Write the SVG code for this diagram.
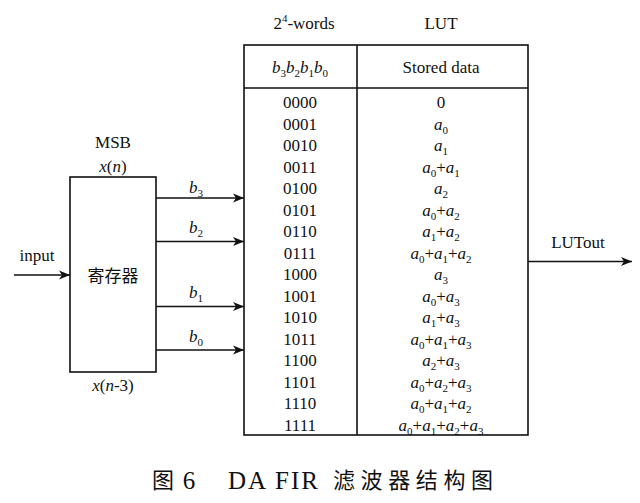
<svg xmlns="http://www.w3.org/2000/svg" width="640" height="503" viewBox="0 0 640 503">
<defs>
<marker id="ah" markerWidth="12" markerHeight="10" refX="11" refY="5" orient="auto" markerUnits="userSpaceOnUse">
<path d="M0,0.5 L11,5 L0,9.5 L3,5 Z" fill="#111"/>
</marker>
<style>
text{font-family:"Liberation Serif","Times New Roman",serif;font-size:17px;fill:#111;text-anchor:middle}
.i{font-style:italic}
.s{font-size:11px}
.cjk{font-family:"Noto Sans CJK SC","Liberation Serif",sans-serif}
.st{text-anchor:start}
.cap{font-size:25px}
.capc{font-size:22px}
.box{fill:#fff;stroke:#111;stroke-width:1.6}
.ln{stroke:#111;stroke-width:1.6;fill:none}
.ar{stroke:#111;stroke-width:1.6;fill:none;marker-end:url(#ah)}
</style>
</defs>
<rect width="640" height="503" fill="#fff"/>

<g id="register">
<rect class="box" x="70" y="177" width="86" height="195"/>
<text x="113" y="148">MSB</text>
<text x="113" y="172"><tspan class="i">x</tspan>(<tspan class="i">n</tspan>)</text>
<text x="113" y="282" class="cjk">寄存器</text>
<text x="113" y="391"><tspan class="i">x</tspan>(<tspan class="i">n</tspan>-3)</text>
</g>

<g id="lut">
<rect class="box" x="244" y="45" width="284" height="390"/>
<line class="ln" x1="244" y1="88" x2="528" y2="88"/>
<line class="ln" x1="357" y1="45" x2="357" y2="435"/>
<text x="304" y="29">2<tspan font-size="11" dy="-7">4</tspan><tspan dy="7">-words</tspan></text>
<text x="441" y="29">LUT</text>
<text x="300" y="73"><tspan class="i">b</tspan><tspan class="s" dy="4">3</tspan><tspan class="i" dy="-4">b</tspan><tspan class="s" dy="4">2</tspan><tspan class="i" dy="-4">b</tspan><tspan class="s" dy="4">1</tspan><tspan class="i" dy="-4">b</tspan><tspan class="s" dy="4">0</tspan></text>
<text x="441" y="73">Stored data</text>
<g id="addresses">
<text x="300" y="108">0000</text>
<text x="300" y="129.5">0001</text>
<text x="300" y="151">0010</text>
<text x="300" y="172.5">0011</text>
<text x="300" y="194">0100</text>
<text x="300" y="215.5">0101</text>
<text x="300" y="237">0110</text>
<text x="300" y="258.5">0111</text>
<text x="300" y="280">1000</text>
<text x="300" y="301.5">1001</text>
<text x="300" y="323">1010</text>
<text x="300" y="344.5">1011</text>
<text x="300" y="366">1100</text>
<text x="300" y="387.5">1101</text>
<text x="300" y="409">1110</text>
<text x="300" y="430.5">1111</text>
</g>
<g id="data">
<text x="441" y="108">0</text>
<text x="441" y="129.5"><tspan class="i">a</tspan><tspan class="s" dy="4">0</tspan></text>
<text x="441" y="151"><tspan class="i">a</tspan><tspan class="s" dy="4">1</tspan></text>
<text x="441" y="172.5"><tspan class="i">a</tspan><tspan class="s" dy="4">0</tspan><tspan dy="-4">+</tspan><tspan class="i">a</tspan><tspan class="s" dy="4">1</tspan></text>
<text x="441" y="194"><tspan class="i">a</tspan><tspan class="s" dy="4">2</tspan></text>
<text x="441" y="215.5"><tspan class="i">a</tspan><tspan class="s" dy="4">0</tspan><tspan dy="-4">+</tspan><tspan class="i">a</tspan><tspan class="s" dy="4">2</tspan></text>
<text x="441" y="237"><tspan class="i">a</tspan><tspan class="s" dy="4">1</tspan><tspan dy="-4">+</tspan><tspan class="i">a</tspan><tspan class="s" dy="4">2</tspan></text>
<text x="441" y="258.5"><tspan class="i">a</tspan><tspan class="s" dy="4">0</tspan><tspan dy="-4">+</tspan><tspan class="i">a</tspan><tspan class="s" dy="4">1</tspan><tspan dy="-4">+</tspan><tspan class="i">a</tspan><tspan class="s" dy="4">2</tspan></text>
<text x="441" y="280"><tspan class="i">a</tspan><tspan class="s" dy="4">3</tspan></text>
<text x="441" y="301.5"><tspan class="i">a</tspan><tspan class="s" dy="4">0</tspan><tspan dy="-4">+</tspan><tspan class="i">a</tspan><tspan class="s" dy="4">3</tspan></text>
<text x="441" y="323"><tspan class="i">a</tspan><tspan class="s" dy="4">1</tspan><tspan dy="-4">+</tspan><tspan class="i">a</tspan><tspan class="s" dy="4">3</tspan></text>
<text x="441" y="344.5"><tspan class="i">a</tspan><tspan class="s" dy="4">0</tspan><tspan dy="-4">+</tspan><tspan class="i">a</tspan><tspan class="s" dy="4">1</tspan><tspan dy="-4">+</tspan><tspan class="i">a</tspan><tspan class="s" dy="4">3</tspan></text>
<text x="441" y="366"><tspan class="i">a</tspan><tspan class="s" dy="4">2</tspan><tspan dy="-4">+</tspan><tspan class="i">a</tspan><tspan class="s" dy="4">3</tspan></text>
<text x="441" y="387.5"><tspan class="i">a</tspan><tspan class="s" dy="4">0</tspan><tspan dy="-4">+</tspan><tspan class="i">a</tspan><tspan class="s" dy="4">2</tspan><tspan dy="-4">+</tspan><tspan class="i">a</tspan><tspan class="s" dy="4">3</tspan></text>
<text x="441" y="409"><tspan class="i">a</tspan><tspan class="s" dy="4">0</tspan><tspan dy="-4">+</tspan><tspan class="i">a</tspan><tspan class="s" dy="4">1</tspan><tspan dy="-4">+</tspan><tspan class="i">a</tspan><tspan class="s" dy="4">2</tspan></text>
<text x="441" y="430.5"><tspan class="i">a</tspan><tspan class="s" dy="4">0</tspan><tspan dy="-4">+</tspan><tspan class="i">a</tspan><tspan class="s" dy="4">1</tspan><tspan dy="-4">+</tspan><tspan class="i">a</tspan><tspan class="s" dy="4">2</tspan><tspan dy="-4">+</tspan><tspan class="i">a</tspan><tspan class="s" dy="4">3</tspan></text>
</g>
</g>

<g id="connectors">
<line class="ar" x1="14" y1="275" x2="70" y2="275"/>
<line class="ar" x1="156" y1="198" x2="244" y2="198"/>
<line class="ar" x1="156" y1="241.5" x2="244" y2="241.5"/>
<line class="ar" x1="156" y1="306.5" x2="244" y2="306.5"/>
<line class="ar" x1="156" y1="350" x2="244" y2="350"/>
<line class="ar" x1="528" y1="261.5" x2="632" y2="261.5"/>
<text x="37" y="261">input</text>
<text x="196" y="193"><tspan class="i">b</tspan><tspan class="s" dy="4">3</tspan></text>
<text x="196" y="233"><tspan class="i">b</tspan><tspan class="s" dy="4">2</tspan></text>
<text x="196" y="298"><tspan class="i">b</tspan><tspan class="s" dy="4">1</tspan></text>
<text x="196" y="342"><tspan class="i">b</tspan><tspan class="s" dy="4">0</tspan></text>
<text x="578" y="248">LUTout</text>
</g>

<g id="caption">
<text x="163" y="488" class="cjk capc">图</text>
<text x="189" y="489" class="cap">6</text>
<text x="228" y="489" class="cap st" textLength="90" lengthAdjust="spacing">DA FIR</text>
<text x="333" y="488" class="cjk capc st" textLength="160" lengthAdjust="spacing">滤波器结构图</text>
</g>
</svg>
